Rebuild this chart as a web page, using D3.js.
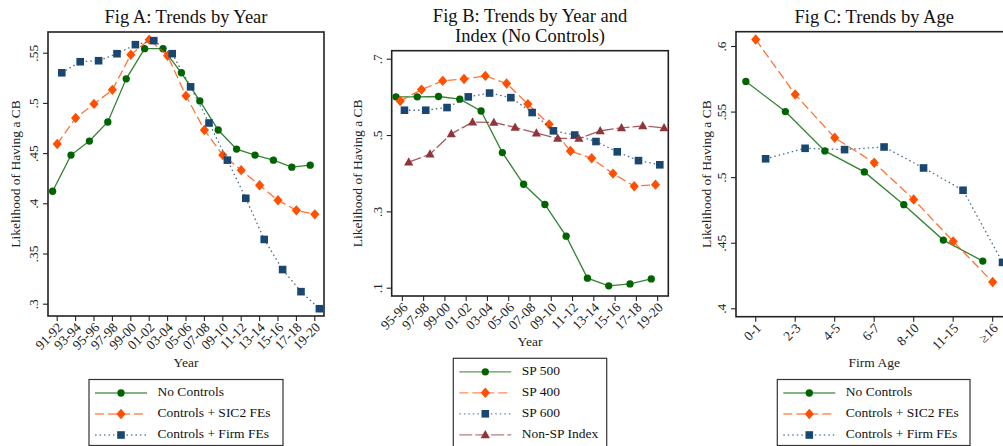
<!DOCTYPE html>
<html>
<head>
<meta charset="utf-8">
<script src="https://cdn.jsdelivr.net/npm/d3@7"></script>
<style>
  body { margin: 0; background: #fff; }
  svg { display: block; font-family: "Liberation Serif", "Times New Roman", serif; }
</style>
</head>
<body>
<div id="chart"></div>
<script>
// categories
var yearsA = ["91-92", "93-94", "95-96", "97-98", "99-00", "01-02", "03-04", "05-06",
              "07-08", "09-10", "11-12", "13-14", "15-16", "17-18", "19-20"];
var yearsB = ["95-96", "97-98", "99-00", "01-02", "03-04", "05-06", "07-08",
              "09-10", "11-12", "13-14", "15-16", "17-18", "19-20"];
var agesC = ["0-1", "2-3", "4-5", "6-7", "8-10", "11-15", "\u226516"];

// Fig A
var aNoControls = [.412, .448, .462, .481, .524, .554, .554, .530, .502, .473, .454, .448, .443, .436, .438];
var aSic2 = [.459, .485, .499, .513, .548, .563, .547, .507, .473, .448, .433, .418, .403, .393, .389];
var aFirm = [.530, .541, .542, .549, .558, .562, .549, .516, .480, .443, .405, .364, .334, .312, .295];

// Fig B
var bSp500 = [.600, .600, .601, .594, .563, .454, .371, .318, .235, .125, .105, .110, .123];
var bSp400 = [.589, .619, .642, .647, .655, .635, .581, .528, .458, .439, .399, .366, .370];
var bSp600 = [.565, .565, .572, .600, .610, .598, .559, .511, .500, .483, .456, .433, .422];
var bNonSp = [.429, .450, .503, .534, .533, .520, .505, .491, .491, .511, .519, .524, .519];

// Fig C
var cNoControls = [.573, .550, .520, .504, .479, .452, .436];
var cSic2 = [.605, .563, .530, .511, .483, .451, .420];
var cFirm = [.514, .522, .521, .523, .507, .490, .435];

// y ticks
var ticksA = [.3, .35, .4, .45, .5, .55];
var ticksB = [.1, .3, .5, .7];
var ticksC = [.4, .45, .5, .55, .6];

var width = 1003, height = 446;

var styles = {
  green:  { color: "#006400", dash: null,   marker: "circle" },
  orange: { color: "#ff4f00", dash: "9,4",  marker: "diamond" },
  navy:   { color: "#1a476f", dash: "1.5,3", marker: "square" },
  maroon: { color: "#90353b", dash: "13,3", marker: "triangle" }
};

var svg = d3.select("#chart").append("svg")
    .attr("width", width)
    .attr("height", height);

function tickFmt(v) {
  return d3.format(".2~f")(v).replace(/^0/, "");
}

function markerPath(type) {
  if (type == "circle") return d3.symbol().type(d3.symbolCircle).size(42)();
  if (type == "diamond") return "M0,-5.2L4.6,0L0,5.2L-4.6,0Z";
  if (type == "square") return "M-3.8,-3.8H3.8V3.8H-3.8Z";
  return "M0,-4.8L4.6,3.4H-4.6Z";
}

function drawPanel(p) {
  var g = svg.append("g");

  var x = d3.scaleBand()
      .domain(p.cats)
      .range([p.left, p.right]);
  var bw = x.bandwidth();

  var y = d3.scaleLinear()
      .domain(p.yDomain)
      .range(p.yRange);

  // frame
  g.append("rect")
      .attr("x", p.left)
      .attr("y", p.top)
      .attr("width", p.right - p.left)
      .attr("height", p.bottom - p.top)
      .attr("fill", "none")
      .attr("stroke", "#222")
      .attr("stroke-width", 1.6);

  // y axis
  var ya = g.append("g")
      .attr("transform", "translate(" + p.left + ",0)")
      .call(d3.axisLeft(y).tickValues(p.yTicks).tickSize(5).tickFormat(tickFmt));
  ya.select(".domain").remove();
  ya.selectAll(".tick line").attr("stroke", "#222").attr("stroke-width", 1.1);
  ya.selectAll(".tick text")
      .attr("x", null).attr("dy", null)
      .attr("transform", "translate(-10,0) rotate(-90)")
      .attr("text-anchor", "middle")
      .style("font-size", "13.5px")
      .style("font-family", "Liberation Serif")
      .attr("fill", "#222");

  // x axis
  var xa = g.append("g")
      .attr("transform", "translate(0," + p.bottom + ")")
      .call(d3.axisBottom(x).tickSize(5).tickSizeOuter(0));
  xa.select(".domain").remove();
  xa.selectAll(".tick line").attr("stroke", "#222").attr("stroke-width", 1.1);
  xa.selectAll(".tick text")
      .attr("y", null).attr("dy", null)
      .attr("transform", "translate(4,10) rotate(-45)")
      .attr("text-anchor", "end")
      .attr("dominant-baseline", "middle")
      .style("font-size", "13.5px")
      .style("font-family", "Liberation Serif")
      .attr("fill", "#222");

  // titles
  p.title.forEach(function (t, i) {
    g.append("text")
        .attr("x", (p.left + p.right) / 2)
        .attr("y", p.titleY + i * 20)
        .attr("text-anchor", "middle")
        .style("font-size", "18.5px")
        .attr("fill", "#111")
        .text(t);
  });

  g.append("text")
      .attr("transform", "translate(" + p.yLabelX + "," + ((p.top + p.bottom) / 2) + ") rotate(-90)")
      .attr("text-anchor", "middle")
      .attr("dominant-baseline", "middle")
      .style("font-size", "13.5px")
      .attr("fill", "#222")
      .text("Likelihood of Having a CB");

  g.append("text")
      .attr("x", (p.left + p.right) / 2)
      .attr("y", p.xLabelY)
      .attr("text-anchor", "middle")
      .attr("dominant-baseline", "middle")
      .style("font-size", "13.5px")
      .attr("fill", "#222")
      .text(p.xLabel);

  // series
  var line = d3.line()
      .x(function (d) { return d.x; })
      .y(function (d) { return d.y; });

  p.series.forEach(function (s) {
    var st = styles[s.style];
    var pts = s.values.map(function (v, i) {
      return { x: x(p.cats[i]) + bw / 2 + s.offset * bw, y: y(v) };
    });
    g.append("path")
        .attr("d", line(pts))
        .attr("fill", "none")
        .attr("stroke", st.color)
        .attr("stroke-opacity", 0.8)
        .attr("stroke-width", 1.3)
        .attr("stroke-dasharray", st.dash);
    g.selectAll(null)
        .data(pts)
        .enter().append("path")
        .attr("d", markerPath(st.marker))
        .attr("transform", function (d) { return "translate(" + d.x + "," + d.y + ")"; })
        .attr("fill", st.color);
  });

  // legend
  var lg = g.append("g");
  var L = p.legend;
  lg.append("rect")
      .attr("x", L.x)
      .attr("y", L.y)
      .attr("width", L.w)
      .attr("height", L.h)
      .attr("fill", "#fff")
      .attr("stroke", "#333")
      .attr("stroke-width", 1.2);
  p.series.forEach(function (s, i) {
    var st = styles[s.style];
    var cy = L.y + 13.5 + i * 21;
    lg.append("line")
        .attr("x1", L.x + 6).attr("x2", L.x + 58)
        .attr("y1", cy).attr("y2", cy)
        .attr("stroke", st.color)
        .attr("stroke-opacity", 0.65)
        .attr("stroke-width", 1.3)
        .attr("stroke-dasharray", st.dash);
    lg.append("path")
        .attr("d", markerPath(st.marker))
        .attr("transform", "translate(" + (L.x + 32) + "," + cy + ")")
        .attr("fill", st.color);
    lg.append("text")
        .attr("x", L.x + 68.5)
        .attr("y", cy)
        .attr("dominant-baseline", "middle")
        .style("font-size", "13.5px")
        .attr("fill", "#111")
        .text(s.name);
  });
}

drawPanel({
  cats: yearsA, left: 48, right: 324, top: 32, bottom: 316,
  yDomain: [.3, .55], yRange: [303.7, 52.7], yTicks: ticksA,
  title: ["Fig A: Trends by Year"], titleY: 23,
  yLabelX: 17, xLabel: "Year", xLabelY: 364,
  legend: { x: 89, y: 379.5, w: 194, h: 66 },
  series: [
    { name: "No Controls", values: aNoControls, style: "green", offset: -0.25 },
    { name: "Controls + SIC2 FEs", values: aSic2, style: "orange", offset: 0 },
    { name: "Controls + Firm FEs", values: aFirm, style: "navy", offset: 0.25 }
  ]
});

drawPanel({
  cats: yearsB, left: 391.7, right: 668.3, top: 50.7, bottom: 296,
  yDomain: [.1, .7], yRange: [287.7, 58.7], yTicks: ticksB,
  title: ["Fig B: Trends by Year and", "Index (No Controls)"], titleY: 22,
  yLabelX: 359, xLabel: "Year", xLabelY: 343,
  legend: { x: 453.3, y: 358.3, w: 153.4, h: 90 },
  series: [
    { name: "SP 500", values: bSp500, style: "green", offset: -0.3 },
    { name: "SP 400", values: bSp400, style: "orange", offset: -0.1 },
    { name: "SP 600", values: bSp600, style: "navy", offset: 0.1 },
    { name: "Non-SP Index", values: bNonSp, style: "maroon", offset: 0.3 }
  ]
});

drawPanel({
  cats: agesC, left: 736, right: 1012.4, top: 31.7, bottom: 316.7,
  yDomain: [.4, .6], yRange: [308.3, 46], yTicks: ticksC,
  title: ["Fig C: Trends by Age"], titleY: 23,
  yLabelX: 708, xLabel: "Firm Age", xLabelY: 364,
  legend: { x: 777.3, y: 379.5, w: 192.7, h: 66 },
  series: [
    { name: "No Controls", values: cNoControls, style: "green", offset: -0.25 },
    { name: "Controls + SIC2 FEs", values: cSic2, style: "orange", offset: 0 },
    { name: "Controls + Firm FEs", values: cFirm, style: "navy", offset: 0.25 }
  ]
});
</script>
</body>
</html>
